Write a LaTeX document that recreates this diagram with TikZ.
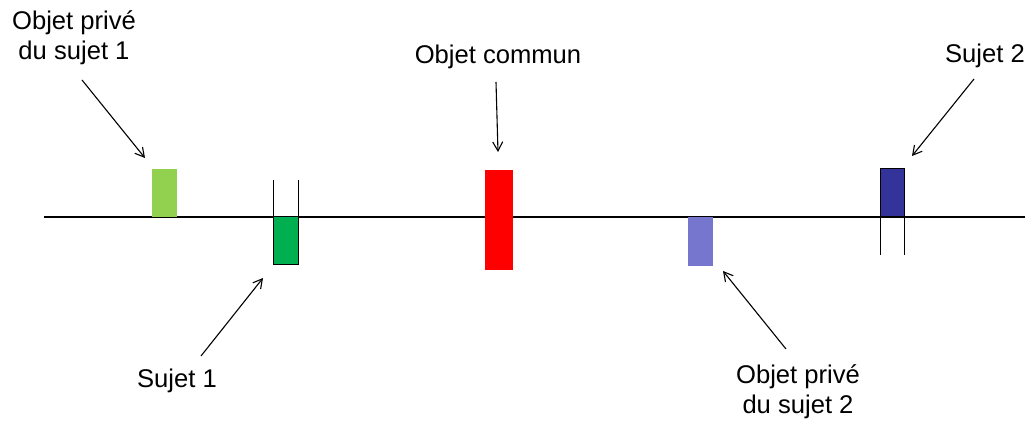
\documentclass[tikz,border=0pt]{standalone}
\usepackage{fontspec}
\setmainfont{Liberation Sans}
\usetikzlibrary{arrows.meta,positioning}
\definecolor{vertclair}{HTML}{92D050}
\definecolor{vertfonce}{HTML}{00B050}
\definecolor{rouge}{HTML}{FF0000}
\definecolor{lavande}{HTML}{7676CF}
\definecolor{bleufonce}{HTML}{333399}
\tikzset{
  lbl/.style={align=center,font=\fontsize{12.8pt}{15pt}\selectfont,inner sep=0pt},
  bar/.style={inner sep=0pt,outer sep=0pt,anchor=north west,minimum width=12.5pt},
  arr/.style={-{Straight Barb[length=4.5pt,width=5pt]},line width=0.55pt},
  axe/.style={line width=0.6pt},
  tick/.style={line width=0.5pt},
}
\begin{document}
\begin{tikzpicture}[x=0.5pt,y=-0.5pt]
\useasboundingbox (0,0) rectangle (1029,421);
% axis
\draw[axe] (44,217) -- (1025,217);
% objects and subjects
\node[bar,fill=vertclair,minimum height=24pt] (priv1) at (152,169) {};
\node[bar,fill=vertfonce,draw=black,line width=0.5pt,minimum height=24pt] (suj1) at (273,217) {};
\node[bar,fill=rouge,minimum width=14pt,minimum height=50pt] (comm) at (485,170) {};
\node[bar,fill=lavande,minimum height=24.5pt] (priv2) at (688,217) {};
\node[bar,fill=bleufonce,draw=black,line width=0.5pt,minimum width=12pt,minimum height=24pt] (suj2) at (880,169) {};
% ticks round the subjects
\draw[tick] (suj1.north west) -- ++(0,-37);
\draw[tick] (suj1.north east) -- ++(0,-37);
\draw[tick] (suj2.south west) -- ++(0,38);
\draw[tick] (suj2.south east) -- ++(0,38);
% labels
\node[lbl] (tpriv1) at (74,38) {Objet privé\\du sujet 1};
\node[lbl] (tcomm) at (498,57) {Objet commun};
\node[lbl] (tsuj2) at (985,56) {Sujet 2};
\node[lbl] (tsuj1) at (177,381) {Sujet 1};
\node[lbl] (tpriv2) at (798,392) {Objet privé\\du sujet 2};
% arrows
\coordinate (a1) at (82,80);   \coordinate (b1) at (145,158);
\coordinate (a2) at (496,82);  \coordinate (b2) at (498,152);
\coordinate (a3) at (974,79);  \coordinate (b3) at (912,156);
\coordinate (a4) at (201,356); \coordinate (b4) at (263,278);
\coordinate (a5) at (786,349); \coordinate (b5) at (723,271);
\foreach \i in {1,...,5}{
  \draw[arr] (a\i) -- (b\i);
}
\end{tikzpicture}
\end{document}
